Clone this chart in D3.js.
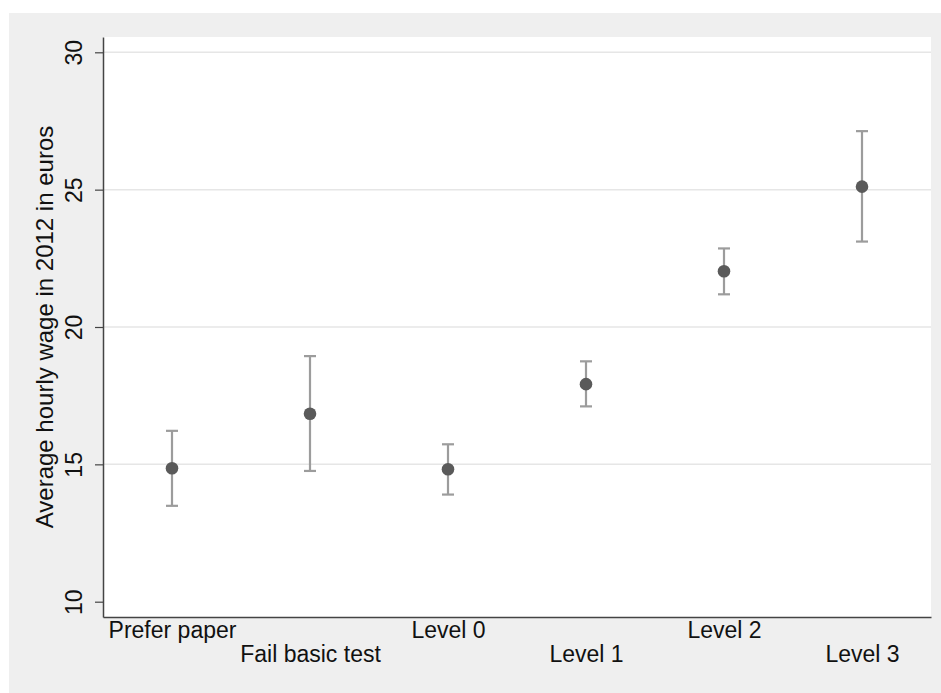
<!DOCTYPE html>
<html>
<head>
<meta charset="utf-8">
<script src="https://cdn.jsdelivr.net/npm/d3@7"></script>
<style>
  body { margin: 0; background: #fff; }
  svg text { font-family: "Liberation Sans", Arial, sans-serif; fill: #111; }
</style>
</head>
<body>
<div id="chart"></div>
<script>
var categories = ['Prefer paper', 'Fail basic test', 'Level 0', 'Level 1', 'Level 2', 'Level 3'];
var means = [14.86, 16.84, 14.82, 17.92, 22.03, 25.11];
var lower = [13.49, 14.76, 13.90, 17.11, 21.19, 23.11];
var upper = [16.22, 18.94, 15.73, 18.75, 22.86, 27.13];
var yTicks = [10, 15, 20, 25, 30];

var W = 941, H = 693;
var plot = {left: 103, right: 931, top: 37, bottom: 617};

var data = categories.map((c, i) => ({cat: c, pos: i + 1, mean: means[i], lo: lower[i], hi: upper[i]}));

var svg = d3.select('#chart').append('svg')
    .attr('width', W).attr('height', H);

// outer graph region
svg.append('rect').attr('x', 9).attr('y', 13)
    .attr('width', W - 9).attr('height', H - 13)
    .attr('fill', '#efefef');

svg.append('rect').attr('x', plot.left).attr('y', plot.top)
    .attr('width', plot.right - plot.left).attr('height', plot.bottom - plot.top)
    .attr('fill', '#fff');

var x = d3.scaleLinear().domain([0.5, 6.5]).range([plot.left, plot.right]);
var y = d3.scaleLinear().domain([9.443, 30.557]).range([plot.bottom, plot.top]);

// gridlines
svg.append('g').selectAll('line')
    .data(yTicks.slice(1)).enter()
    .append('line')
    .attr('x1', plot.left).attr('x2', plot.right)
    .attr('y1', d => y(d)).attr('y2', d => y(d))
    .attr('stroke', '#e6e6e6').attr('stroke-width', 1.5);

// y axis
var yAxis = svg.append('g')
    .attr('transform', 'translate(' + plot.left + ',0)')
    .call(d3.axisLeft(y).tickValues(yTicks).tickSize(8).tickSizeOuter(0).tickPadding(0));
yAxis.select('.domain').attr('stroke', '#444').attr('stroke-width', 1.5);
yAxis.selectAll('.tick line').attr('stroke', '#444').attr('stroke-width', 1.2);
yAxis.selectAll('.tick text')
    .attr('x', 0).attr('dy', 0)
    .attr('transform', 'translate(-21,0) rotate(-90)')
    .attr('text-anchor', 'middle')
    .style('font-size', '23px').style('fill', '#111');

// x axis
var xAxis = svg.append('g')
    .attr('transform', 'translate(0,' + plot.bottom + ')')
    .call(d3.axisBottom(x).tickValues(data.map(d => d.pos))
        .tickFormat(d => categories[d - 1]).tickSize(0).tickSizeOuter(0));
xAxis.select('.domain').attr('stroke', '#444').attr('stroke-width', 1.5);
xAxis.selectAll('.tick text')
    .attr('y', (d, i) => i % 2 === 0 ? 21 : 44.5)
    .attr('dy', 0)
    .style('font-size', '23px').style('fill', '#111');

// y title
svg.append('text')
    .attr('transform', 'translate(53,' + ((plot.top + plot.bottom) / 2) + ') rotate(-90)')
    .attr('text-anchor', 'middle')
    .style('font-size', '24px')
    .text('Average hourly wage in 2012 in euros');

// error bars
var bars = svg.append('g').attr('stroke', '#9c9c9c').attr('stroke-width', 2.2).attr('fill', 'none');
bars.selectAll('line.stem').data(data).enter().append('line')
    .attr('class', 'stem')
    .attr('x1', d => x(d.pos)).attr('x2', d => x(d.pos))
    .attr('y1', d => y(d.lo)).attr('y2', d => y(d.hi));
bars.selectAll('line.capHi').data(data).enter().append('line')
    .attr('class', 'capHi')
    .attr('x1', d => x(d.pos) - 6).attr('x2', d => x(d.pos) + 6)
    .attr('y1', d => y(d.hi)).attr('y2', d => y(d.hi));
bars.selectAll('line.capLo').data(data).enter().append('line')
    .attr('class', 'capLo')
    .attr('x1', d => x(d.pos) - 6).attr('x2', d => x(d.pos) + 6)
    .attr('y1', d => y(d.lo)).attr('y2', d => y(d.lo));

// means
svg.append('g').selectAll('circle')
    .data(data).enter()
    .append('circle')
    .attr('cx', d => x(d.pos)).attr('cy', d => y(d.mean))
    .attr('r', 6.3)
    .attr('fill', '#5a5a5a');
</script>
</body>
</html>
